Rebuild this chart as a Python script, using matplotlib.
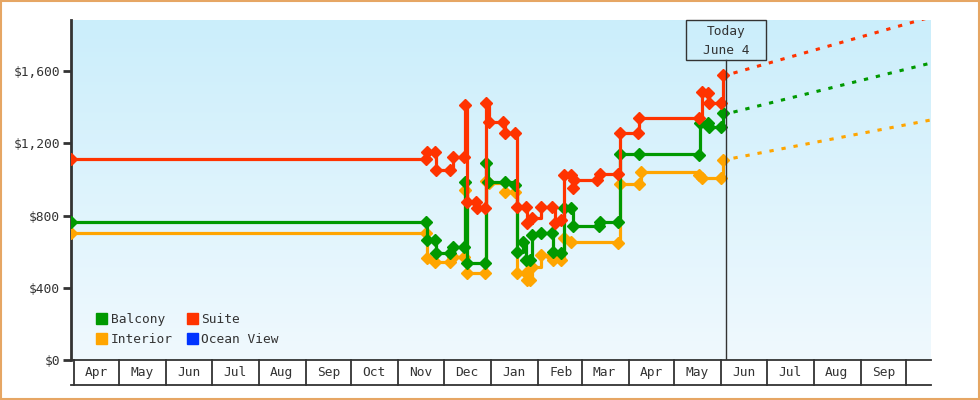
import numpy as np
import pandas as pd
import matplotlib
matplotlib.use('Agg')
import matplotlib.pyplot as plt
import matplotlib.dates as mdates
from matplotlib.patches import Rectangle, Patch
from matplotlib.colors import LinearSegmentedColormap

plt.rcParams['font.family'] = ['DejaVu Sans Mono']

# cabin prices (step data)
suite_dates = ['2023-03-30', '2023-11-19', '2023-11-20', '2023-11-25', '2023-11-26', '2023-12-05',
               '2023-12-07', '2023-12-14', '2023-12-15', '2023-12-16', '2023-12-22', '2023-12-23',
               '2023-12-28', '2023-12-29', '2023-12-31', '2024-01-09', '2024-01-10', '2024-01-17',
               '2024-01-18', '2024-01-24', '2024-01-25', '2024-01-28', '2024-02-03', '2024-02-10',
               '2024-02-12', '2024-02-16', '2024-02-18', '2024-02-23', '2024-02-24', '2024-02-25',
               '2024-03-11', '2024-03-13', '2024-03-25', '2024-03-26', '2024-04-07', '2024-04-08',
               '2024-05-17', '2024-05-19', '2024-05-23', '2024-05-24', '2024-06-01', '2024-06-02']
suite_prices = [1113, 1113, 1152, 1152, 1052, 1052, 1124, 1124, 1412, 875,
                875, 842, 842, 1423, 1318, 1318, 1257, 1257, 847, 847,
                759, 786, 847, 847, 759, 775, 1024, 1024, 952, 997,
                997, 1030, 1030, 1257, 1257, 1340, 1340, 1484, 1478, 1423,
                1423, 1578]

balcony_dates = ['2023-03-30', '2023-11-19', '2023-11-20', '2023-11-25', '2023-11-26', '2023-12-05',
                 '2023-12-07', '2023-12-14', '2023-12-15', '2023-12-16', '2023-12-28', '2023-12-29',
                 '2023-12-30', '2024-01-10', '2024-01-17', '2024-01-18', '2024-01-22', '2024-01-24',
                 '2024-01-27', '2024-01-28', '2024-02-03', '2024-02-10', '2024-02-11', '2024-02-16',
                 '2024-02-18', '2024-02-23', '2024-02-24', '2024-03-12', '2024-03-13', '2024-03-25',
                 '2024-03-26', '2024-04-08', '2024-05-17', '2024-05-18', '2024-05-23', '2024-05-24',
                 '2024-06-01', '2024-06-02']
balcony_prices = [766, 766, 664, 664, 592, 592, 626, 626, 986, 537,
                  537, 1091, 986, 986, 969, 598, 653, 554, 554, 692,
                  703, 703, 598, 592, 842, 842, 742, 742, 764, 764,
                  1141, 1141, 1135, 1312, 1312, 1290, 1290, 1368]

interior_dates = ['2023-03-30', '2023-11-19', '2023-11-20', '2023-11-25', '2023-12-05', '2023-12-07',
                  '2023-12-14', '2023-12-15', '2023-12-16', '2023-12-28', '2023-12-29', '2023-12-31',
                  '2024-01-10', '2024-01-17', '2024-01-18', '2024-01-24', '2024-01-25', '2024-01-27',
                  '2024-01-28', '2024-02-03', '2024-02-10', '2024-02-11', '2024-02-16', '2024-02-18',
                  '2024-02-23', '2024-03-25', '2024-03-26', '2024-04-08', '2024-04-09', '2024-05-17',
                  '2024-05-19', '2024-06-01', '2024-06-02']
interior_prices = [703, 703, 565, 543, 543, 570, 570, 941, 482, 482,
                   991, 980, 930, 930, 482, 482, 443, 443, 515, 581,
                   570, 554, 554, 676, 653, 648, 975, 975, 1041, 1024,
                   1008, 1008, 1107]

# projections after today
proj_dates = ['2024-06-09', '2024-10-17']
proj_suite = [1589, 1899]
proj_balcony = [1373, 1644]
proj_interior = [1118, 1329]

today = '2024-06-04'
today_label = 'Today\nJune 4'
month_starts = pd.date_range('2023-04-01', '2024-10-01', freq='MS')

c_green = '#009900'
c_red = '#ff3300'
c_orange = '#ffa500'
c_blue = '#0033ff'
dark = '#333333'

fig = plt.figure(figsize=(9.8, 4.0), dpi=100)
ax = fig.add_axes([71/980, 40/400, 860/980, 340/400])

apr1 = mdates.date2num(pd.Timestamp('2023-04-01'))
pxday = 1.516
xmin = apr1 - 3/pxday
xmax = apr1 + 857/pxday
ymax = 1883
ax.set_xlim(xmin, xmax)
ax.set_ylim(0, ymax)

# background gradient
cmap = LinearSegmentedColormap.from_list('bg', ['#cbeefb', '#f0f9fe'])
ax.imshow(np.linspace(0, 1, 256).reshape(-1, 1), cmap=cmap, aspect='auto',
          extent=[xmin, xmax, 0, ymax], zorder=0)

def d(lst):
    return pd.to_datetime(lst)

for dates, prices, proj, col, z in [(interior_dates, interior_prices, proj_interior, c_orange, 3),
                                     (balcony_dates, balcony_prices, proj_balcony, c_green, 4),
                                     (suite_dates, suite_prices, proj_suite, c_red, 5)]:
    ax.plot(d(dates), prices, drawstyle='steps-post', color=col, lw=2.3,
            marker='D', ms=5.8, zorder=z)
    ax.plot(d(proj_dates), proj, color=col, lw=2.2, linestyle=(0, (1.4, 2.6)), zorder=z)

# today marker
tnum = mdates.date2num(pd.Timestamp(today))
ax.plot([tnum, tnum], [0, 0.882], color=dark, lw=1, transform=ax.get_xaxis_transform(), zorder=6)
ax.add_patch(Rectangle((tnum - 40/pxday, 0.882), 80/pxday, 0.118, transform=ax.get_xaxis_transform(),
                       fill=False, edgecolor=dark, lw=1, clip_on=False, zorder=6))
ax.text(tnum, 0.938, today_label, transform=ax.get_xaxis_transform(), ha='center', va='center',
        fontsize=9.3, color=dark, linespacing=1.55, zorder=7)

# month boxes under the plot
xt = ax.get_xaxis_transform()
row = -25/340
ax.plot([xmin, xmax], [row, row], color=dark, lw=1.3, transform=xt, clip_on=False)
for m in month_starts:
    mn = mdates.date2num(m)
    ax.plot([mn, mn], [0, row], color=dark, lw=1.3, transform=xt, clip_on=False)
for m in month_starts[:-1]:
    mid = mdates.date2num(m + pd.Timedelta(days=15))
    ax.text(mid, row/2, m.strftime('%b'), transform=xt, ha='center', va='center',
            fontsize=9.3, color=dark)

# axes styling
for s in ['top', 'right']:
    ax.spines[s].set_visible(False)
ax.spines['left'].set_color(dark)
ax.spines['left'].set_linewidth(2)
ax.spines['bottom'].set_color(dark)
ax.spines['bottom'].set_linewidth(1.3)
ax.set_xticks([])
yt = [0, 400, 800, 1200, 1600]
ax.set_yticks(yt)
ax.set_yticklabels(['${:,}'.format(v) for v in yt], fontsize=9.3, color=dark)
ax.tick_params(axis='y', length=6, width=2, color=dark, pad=2)

handles = [Patch(color=c_green), Patch(color=c_orange), Patch(color=c_red), Patch(color=c_blue)]
labels = ['Balcony', 'Interior', 'Suite', 'Ocean View']
ax.legend(handles, labels, ncol=2, loc='lower left', bbox_to_anchor=(0.022, 0.022),
          frameon=False, fontsize=9.3, handlelength=0.85, handleheight=0.85,
          handletextpad=0.25, columnspacing=1.1, labelspacing=0.55, borderpad=0,
          labelcolor=dark)

# outer frame
fig.patches.append(Rectangle((0.7/980, 0.7/400), 1 - 1.4/980, 1 - 1.4/400, transform=fig.transFigure,
                             fill=False, edgecolor='#e6a664', lw=1.5))

fig.savefig('out.png', dpi=100)
